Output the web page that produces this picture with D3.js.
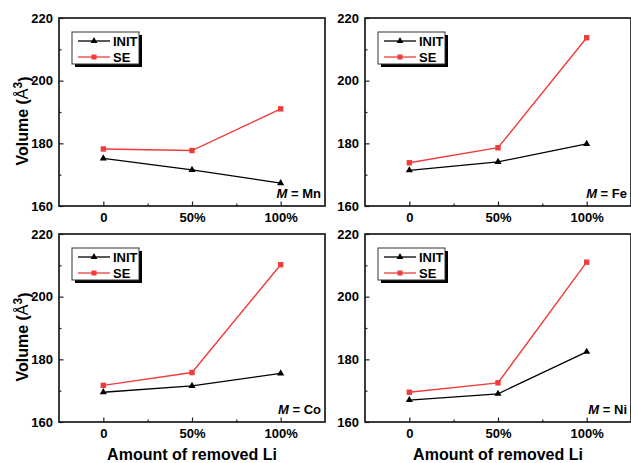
<!DOCTYPE html>
<html lang="en">
  <head>
    <meta charset="UTF-8" />
    <title>Volume vs amount of removed Li</title>
    <style>
      body { margin: 0; background: #fff; }
      svg text { font-family: Arial, "Liberation Sans", sans-serif; font-weight: bold; fill: #000; }
    </style>
  </head>
  <body>
    <svg width="631" height="463"></svg>

    <script src="https://cdn.jsdelivr.net/npm/d3@7"></script>

    <script>
      // x categories (% of Li removed) and their labels
      const removed = [0, 50, 100];
      const removedLabels = ["0", "50%", "100%"];
      const yTicks = [160, 180, 200, 220];

      const metals = ["Mn", "Fe", "Co", "Ni"];
      const initMn = [175.2, 171.5, 167.3];
      const seMn = [178.2, 177.7, 191.0];
      const initFe = [171.4, 174.1, 179.8];
      const seFe = [173.8, 178.6, 213.7];
      const initCo = [169.5, 171.5, 175.5];
      const seCo = [171.7, 175.8, 210.2];
      const initNi = [167.0, 169.0, 182.4];
      const seNi = [169.5, 172.5, 211.0];

      const initSeries = [initMn, initFe, initCo, initNi];
      const seSeries = [seMn, seFe, seCo, seNi];

      const svg = d3.select("svg");
      const red = "#f03c3c";

      // panel placement
      const pw = 266, ph = 188;
      const origins = [[59, 18], [365, 18], [59, 234], [365, 234]];

      const x = d3.scaleLinear().domain([-25, 125]).range([0, pw]);
      const y = d3.scaleLinear().domain([160, 220]).range([ph, 0]);

      const line = d3.line()
        .x((d, i) => x(removed[i]))
        .y(d => y(d));

      metals.forEach((m, k) => {
        const g = svg.append("g")
          .attr("transform", "translate(" + origins[k][0] + "," + origins[k][1] + ")");

        // minor ticks
        g.append("g")
          .call(d3.axisLeft(y).tickValues([170, 190, 210]).tickSize(-2.5).tickFormat(""))
          .call(a => a.select(".domain").remove())
          .selectAll("line").attr("stroke", "#222").attr("stroke-width", 1.2);
        g.append("g")
          .attr("transform", "translate(0," + ph + ")")
          .call(d3.axisBottom(x).tickValues([25, 75]).tickSize(-2.5).tickFormat(""))
          .call(a => a.select(".domain").remove())
          .selectAll("line").attr("stroke", "#222").attr("stroke-width", 1.2);

        // major ticks + labels
        const ya = g.append("g")
          .call(d3.axisLeft(y).tickValues(yTicks).tickSize(-4.5).tickPadding(6));
        ya.select(".domain").remove();
        ya.selectAll("line").attr("stroke", "#222").attr("stroke-width", 1.2);
        ya.selectAll("text").attr("font-size", 13).attr("font-family", null);

        const xa = g.append("g")
          .attr("transform", "translate(0," + ph + ")")
          .call(d3.axisBottom(x).tickValues(removed)
            .tickFormat((d, i) => removedLabels[i]).tickSize(-4.5).tickPadding(7));
        xa.select(".domain").remove();
        xa.selectAll("line").attr("stroke", "#222").attr("stroke-width", 1.2);
        xa.selectAll("text").attr("font-size", 13).attr("font-family", null);

        // frame
        g.append("rect")
          .attr("width", pw).attr("height", ph)
          .attr("fill", "none").attr("stroke", "#1a1a1a").attr("stroke-width", 1.7);

        // series
        g.append("path").datum(initSeries[k])
          .attr("d", line).attr("fill", "none")
          .attr("stroke", "#000").attr("stroke-width", 1.3);
        g.append("path").datum(seSeries[k])
          .attr("d", line).attr("fill", "none")
          .attr("stroke", red).attr("stroke-width", 1.4);

        g.selectAll(".tri").data(initSeries[k]).join("path")
          .attr("transform", (d, i) => "translate(" + x(removed[i]) + "," + y(d) + ")")
          .attr("d", d3.symbol(d3.symbolTriangle, 22))
          .attr("fill", "#000");
        g.selectAll(".sq").data(seSeries[k]).join("rect")
          .attr("x", (d, i) => x(removed[i]) - 2.7)
          .attr("y", d => y(d) - 2.7)
          .attr("width", 5.4).attr("height", 5.4)
          .attr("fill", red);

        // legend
        const lg = g.append("g").attr("transform", "translate(13,14)");
        lg.append("rect").attr("x", 3).attr("y", 3).attr("width", 67).attr("height", 32)
          .attr("fill", "#000");
        lg.append("rect").attr("width", 67).attr("height", 32)
          .attr("fill", "#fff").attr("stroke", "#333").attr("stroke-width", 1);
        [["INIT", "#000", 9], ["SE", red, 25]].forEach(([name, c, ly]) => {
          lg.append("line").attr("x1", 6).attr("x2", 38).attr("y1", ly).attr("y2", ly)
            .attr("stroke", c).attr("stroke-width", 1.3);
          if (name === "INIT") {
            lg.append("path").attr("transform", "translate(22," + ly + ")")
              .attr("d", d3.symbol(d3.symbolTriangle, 20)).attr("fill", c);
          } else {
            lg.append("rect").attr("x", 19.5).attr("y", ly - 2.5)
              .attr("width", 5).attr("height", 5).attr("fill", c);
          }
          lg.append("text").attr("x", 41).attr("y", ly).attr("dy", "0.36em")
            .attr("font-size", 13).text(name);
        });

        // metal label
        const t = g.append("text")
          .attr("x", pw - 4).attr("y", ph - 8)
          .attr("text-anchor", "end").attr("font-size", 13);
        t.append("tspan").attr("font-style", "italic").text("M");
        t.append("tspan").text(" = " + m);

        // y axis title on left column
        if (k % 2 === 0) {
          const yt = svg.append("text")
            .attr("transform", "translate(" + (origins[k][0] - 31) + "," + (origins[k][1] + ph / 2 + 9) + ") rotate(-90)")
            .attr("text-anchor", "middle").attr("font-size", 16);
          yt.append("tspan").text("Volume (");
          yt.append("tspan").attr("font-weight", "normal").text("Å");
          yt.append("tspan").attr("dy", "-0.5em").attr("font-size", 12).text("3");
          yt.append("tspan").attr("dy", "0.5em").text(")");
        }
        // x axis title on bottom row
        if (k >= 2) {
          svg.append("text")
            .attr("x", origins[k][0] + x(50)).attr("y", origins[k][1] + ph + 38)
            .attr("text-anchor", "middle").attr("font-size", 16)
            .text("Amount of removed Li");
        }
      });
    </script>
  </body>
</html>
